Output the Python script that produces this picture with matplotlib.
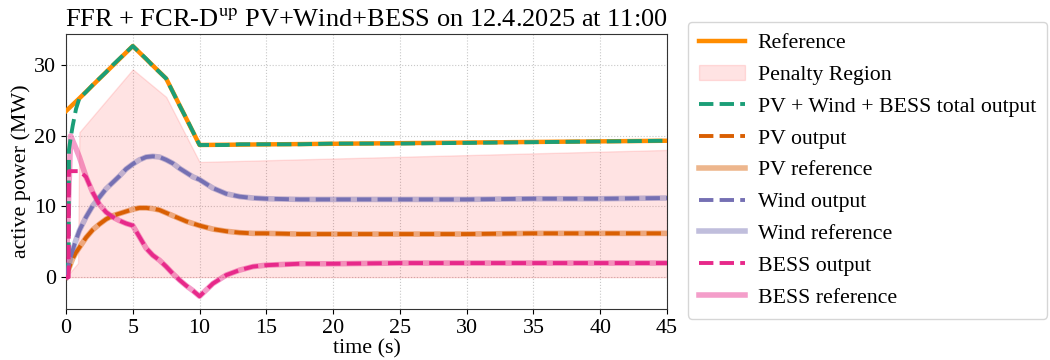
import matplotlib
matplotlib.use("Agg")
import matplotlib.pyplot as plt
import numpy as np

plt.rcParams['font.family'] = ['Liberation Serif', 'DejaVu Serif']
plt.rcParams['mathtext.fontset'] = 'stix'
plt.rcParams['font.size'] = 15.8

# ---------------- data ----------------
t = [0, 0.2, 0.22, 0.35, 0.5, 0.75, 1, 1.5, 2, 2.5, 3, 3.5, 4, 4.5, 5, 5.5, 6, 6.5,
     7, 7.5, 8, 8.5, 9, 9.5, 10, 11, 12, 13, 14, 15, 17.5, 20, 25, 30, 35, 40, 45]

ref_t = [0, 1, 5, 7.5, 10, 45]
ref_p = [23.5, 25.3, 32.7, 28.1, 18.7, 19.3]

pen_t = [0, 0.9, 1.0, 5, 7.5, 10, 45]
pen_upper = [0, 2.0, 20.5, 29.4, 25.5, 16.3, 18.0]
pen_lower = [0, 0, 0, 0, 0, 0, 0]

total_out = [0, 2.7, 18.0, 19.7, 21.4, 23.8, 25.3, 26.2, 27.2, 28.1, 29.0, 30.0, 30.9, 31.8,
             32.7, 31.8, 30.9, 29.9, 29.0, 28.1, 26.2, 24.3, 22.5, 20.6, 18.7, 18.7, 18.7,
             18.8, 18.8, 18.8, 18.8, 18.9, 18.9, 19.0, 19.1, 19.2, 19.3]

pv_out = [0, 1.1, 1.2, 1.9, 2.6, 3.5, 4.2, 5.6, 6.7, 7.5, 8.2, 8.7, 9.0, 9.3, 9.6, 9.8, 9.8,
          9.7, 9.5, 9.1, 8.7, 8.3, 7.9, 7.6, 7.3, 6.8, 6.5, 6.3, 6.2, 6.2, 6.1, 6.1, 6.1,
          6.1, 6.2, 6.2, 6.2]
pv_ref = [0, 1.1, 1.2, 1.9, 2.6, 3.5, 4.2, 5.6, 6.7, 7.5, 8.2, 8.7, 9.0, 9.3, 9.6, 9.8, 9.8,
          9.7, 9.5, 9.1, 8.7, 8.3, 7.9, 7.6, 7.3, 6.8, 6.5, 6.3, 6.2, 6.2, 6.1, 6.1, 6.1,
          6.1, 6.2, 6.2, 6.2]

wind_out = [0, 1.6, 1.8, 2.8, 3.8, 5.3, 6.6, 8.5, 10.1, 11.3, 12.5, 13.4, 14.3, 15.3, 16.0,
            16.6, 17.0, 17.1, 17.0, 16.6, 16.1, 15.4, 14.8, 14.2, 13.8, 12.6, 11.8, 11.4,
            11.2, 11.1, 11.0, 11.0, 11.0, 11.0, 11.1, 11.1, 11.2]
wind_ref = [0, 1.6, 1.8, 2.8, 3.8, 5.3, 6.6, 8.5, 10.1, 11.3, 12.5, 13.4, 14.3, 15.3, 16.0,
            16.6, 17.0, 17.1, 17.0, 16.6, 16.1, 15.4, 14.8, 14.2, 13.8, 12.6, 11.8, 11.4,
            11.2, 11.1, 11.0, 11.0, 11.0, 11.0, 11.1, 11.1, 11.2]

bess_out = [0, 0, 15.0, 15.0, 15.0, 15.0, 15.0, 14.2, 12.0, 10.3, 9.2, 8.5, 8.0, 7.6, 7.3,
            5.7, 4.1, 3.1, 2.4, 1.5, 0.5, -0.4, -1.2, -1.9, -2.7, -0.9, 0.3, 1.0, 1.5, 1.7,
            1.9, 1.9, 2.0, 2.0, 2.0, 2.0, 2.0]
bess_ref = [0, 11.4, 12.6, 20.0, 19.3, 18.2, 17.0, 14.2, 12.0, 10.3, 9.2, 8.5, 8.0, 7.6, 7.3,
            5.7, 4.1, 3.1, 2.4, 1.5, 0.5, -0.4, -1.2, -1.9, -2.7, -0.9, 0.3, 1.0, 1.5, 1.7,
            1.9, 1.9, 2.0, 2.0, 2.0, 2.0, 2.0]

x_ticks = [0, 5, 10, 15, 20, 25, 30, 35, 40, 45]
y_ticks = [0, 10, 20, 30]

# ---------------- plot ----------------
c_ref = '#ff8c00'
c_tot = '#1b9e77'
c_pv = '#d95f02'
c_wind = '#7570b3'
c_bess = '#e7298a'

fig = plt.figure(figsize=(10.5, 3.6), dpi=100)
ax = fig.add_axes([66 / 1050, 1 - 309 / 360, (667 - 66) / 1050, (309 - 34) / 360])

lw_ref = 3.2
lw_out = 2.8

ax.plot(ref_t, ref_p, color=c_ref, lw=lw_ref, label='Reference', zorder=3)
ax.fill_between(pen_t, pen_lower, pen_upper, color='red', alpha=0.11, lw=1,
                label='Penalty Region', zorder=1)
ax.plot(t, total_out, color=c_tot, lw=lw_out, ls='--', label='PV + Wind + BESS total output', zorder=4)
ax.plot(t, pv_out, color=c_pv, lw=lw_out, ls='--', label='PV output', zorder=4)
ax.plot(t, pv_ref, color=c_pv, lw=lw_ref + 0.8, alpha=0.45, label='PV reference', zorder=3)
ax.plot(t, wind_out, color=c_wind, lw=lw_out, ls='--', label='Wind output', zorder=4)
ax.plot(t, wind_ref, color=c_wind, lw=lw_ref + 0.8, alpha=0.45, label='Wind reference', zorder=3)
ax.plot(t, bess_out, color=c_bess, lw=lw_out, ls='--', label='BESS output', zorder=4)
ax.plot(t, bess_ref, color=c_bess, lw=lw_ref + 0.8, alpha=0.45, label='BESS reference', zorder=3)

ax.set_xlim(0, 45)
ax.set_ylim(-4.5, 34.4)
ax.set_xticks(x_ticks)
ax.set_yticks(y_ticks)
ax.grid(True, ls=':', lw=0.8, color='#c8c8c8')
ax.set_axisbelow(True)
ax.set_xlabel('time (s)', labelpad=1)
ax.set_ylabel('active power (MW)', labelpad=2)
ax.set_title(r'FFR + FCR-D$^{\mathrm{up}}$ PV+Wind+BESS on 12.4.2025 at 11:00', fontsize=19, pad=6)
for s in ax.spines.values():
    s.set_color('#333333')

leg = ax.legend(loc='upper left', bbox_to_anchor=(688 / 1050, 1 - 22 / 360),
                bbox_transform=fig.transFigure, borderaxespad=0, frameon=True, fancybox=True,
                edgecolor='#cccccc', fontsize=15.7, handlelength=2.1, handletextpad=0.6,
                labelspacing=0.53, borderpad=0.5)

fig.savefig('out.png', dpi=100)
